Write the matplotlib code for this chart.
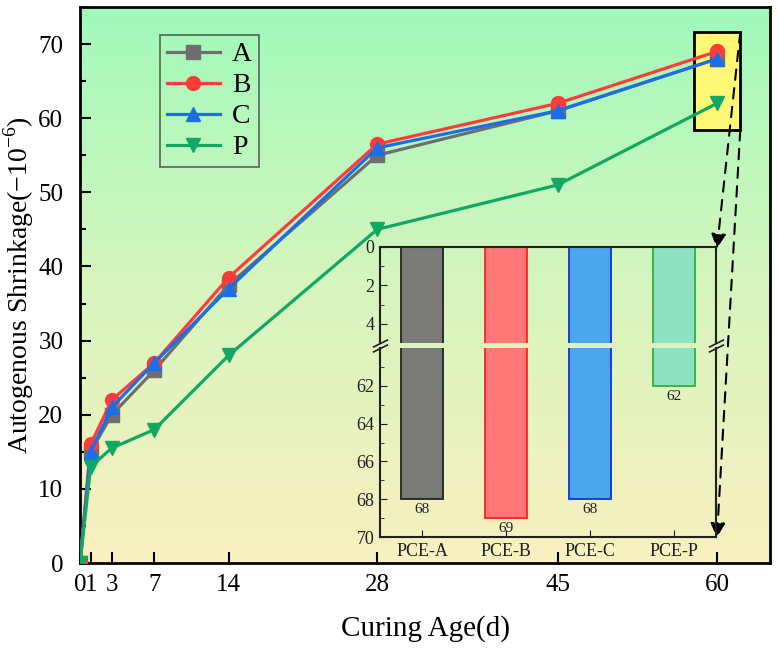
import numpy as np
import matplotlib
matplotlib.use("Agg")
import matplotlib.pyplot as plt
from matplotlib.colors import LinearSegmentedColormap
from matplotlib.patches import Rectangle

plt.rcParams["font.family"] = ["Liberation Serif", "DejaVu Serif"]
plt.rcParams["mathtext.fontset"] = "custom"
plt.rcParams["mathtext.rm"] = "Liberation Serif"

# curing age (days) and autogenous shrinkage (-1e-6)
days = [0, 1, 3, 7, 14, 28, 45, 60]
shrink_a = [0, 15, 20, 26, 37.5, 55, 61, 68]
shrink_b = [0, 16, 22, 27, 38.5, 56.5, 62, 69]
shrink_c = [0, 15, 21, 27, 37, 56, 61, 68]
shrink_p = [0, 13, 15.5, 18, 28, 45, 51, 62]

# inset: 60-day values
inset_labels = ["PCE-A", "PCE-B", "PCE-C", "PCE-P"]
inset_values = [68, 69, 68, 62]

W, H = 779, 652
fig = plt.figure(figsize=(W / 100, H / 100), dpi=100)


def px_axes(l, t, r, b):
    return fig.add_axes([l / W, 1 - b / H, (r - l) / W, (b - t) / H])


ax = px_axes(80, 7, 770, 563)

# background gradient
cmap = LinearSegmentedColormap.from_list("bg", ["#f9f0c0", "#d6f5be", "#a0f9bb"])
grad = np.linspace(0, 1, 256).reshape(-1, 1)
ax.imshow(grad, cmap=cmap, aspect="auto", origin="lower",
          extent=[0, 65, 0, 75], zorder=0)

series = [
    ("A", shrink_a, "#6e6e6e", "s"),
    ("B", shrink_b, "#ff3b3b", "o"),
    ("C", shrink_c, "#1a6fe8", "^"),
    ("P", shrink_p, "#10a862", "v"),
]
for i, (name, vals, col, mk) in enumerate(series):
    ax.plot(days, vals, color=col, marker=mk, markersize=10, lw=2.3,
            label=name, zorder=3 + i)

# highlight box at 60 d
ax.add_patch(Rectangle((57.8, 58.4), 4.4, 13.2, facecolor="#fff877",
                       edgecolor="black", lw=2, zorder=2))

ax.set_xlim(0, 65)
ax.set_ylim(0, 75)
ax.set_xticks(days)
ax.set_yticks(range(0, 71, 10))
ax.set_yticks(range(5, 75, 10), minor=True)
ax.tick_params(which="both", direction="in", width=1.5, labelsize=18,
               top=False, right=False)
ax.tick_params(which="major", length=8)
ax.tick_params(which="minor", length=4)
ax.tick_params(axis="y", pad=12)
ax.tick_params(axis="x", pad=8)
for s in ax.spines.values():
    s.set_linewidth(2)
ax.set_xlabel("Curing Age(d)", fontsize=21, labelpad=14)
ax.set_ylabel(r"Autogenous Shrinkage(−10$^{-6}$)", fontsize=20, labelpad=2)

leg = ax.legend(loc="upper left", bbox_to_anchor=(80 / 690, 1 - 28 / 556),
                fontsize=20, handlelength=1.9, labelspacing=0.2,
                borderpad=0.25, handletextpad=0.45, fancybox=False,
                borderaxespad=0)
leg.get_frame().set_facecolor("none")
leg.get_frame().set_edgecolor("#404040")
leg.get_frame().set_linewidth(1.2)

# dashed arrows from box to inset
arrow_kw = dict(arrowstyle="-|>", linestyle=(0, (5, 4)), color="black",
                lw=1.5, mutation_scale=22, shrinkA=0, shrinkB=0)
ax.annotate("", xy=(60, 42.4), xytext=(62.2, 71.6),
            arrowprops=arrow_kw, zorder=8)
ax.annotate("", xy=(60, 3.4), xytext=(62.2, 58.4),
            arrowprops=arrow_kw, zorder=8)

# broken-axis inset
ax_top = px_axes(380, 247, 716, 343)
ax_bot = px_axes(380, 348, 716, 537)
fills = ["#7a7b78", "#ff7777", "#4ba6ec", "#8ee2c4"]
edges = ["#222222", "#ff2020", "#1030e0", "#30b040"]
xpos = np.arange(len(inset_labels))
for a in (ax_top, ax_bot):
    a.set_facecolor("none")
    a.bar(xpos, inset_values, width=0.5, color=fills, edgecolor=edges, lw=1.3)
    a.set_xlim(-0.5, 3.5)
    for s in a.spines.values():
        s.set_linewidth(1.5)
        s.set_color("#202020")
    a.tick_params(which="both", direction="in", labelsize=13, pad=4,
                  colors="#202020")
    a.tick_params(which="major", length=5)
    a.tick_params(which="minor", length=3)

ax_top.set_ylim(5, 0)
ax_top.set_yticks([0, 2, 4])
ax_top.set_yticks([1, 3], minor=True)
ax_top.spines["bottom"].set_visible(False)
ax_top.set_xticks([])

ax_bot.set_ylim(70, 60)
ax_bot.set_yticks([62, 64, 66, 68, 70])
ax_bot.set_yticks([61, 63, 65, 67, 69], minor=True)
ax_bot.spines["top"].set_visible(False)
ax_bot.set_xticks(xpos)
ax_bot.set_xticklabels(inset_labels, fontsize=13)
for x, v in zip(xpos, inset_values):
    ax_bot.text(x, v + 0.2, str(v), ha="center", va="top", fontsize=11,
                color="#202020")

brk = dict(marker=[(-1, -0.5), (1, 0.5)], markersize=11, linestyle="none",
           color="#202020", mec="#202020", mew=1.2, clip_on=False)
ax_top.plot([0, 1], [0, 0], transform=ax_top.transAxes, **brk)
ax_bot.plot([0, 1], [1, 1], transform=ax_bot.transAxes, **brk)

fig.savefig("out.png", dpi=100)
